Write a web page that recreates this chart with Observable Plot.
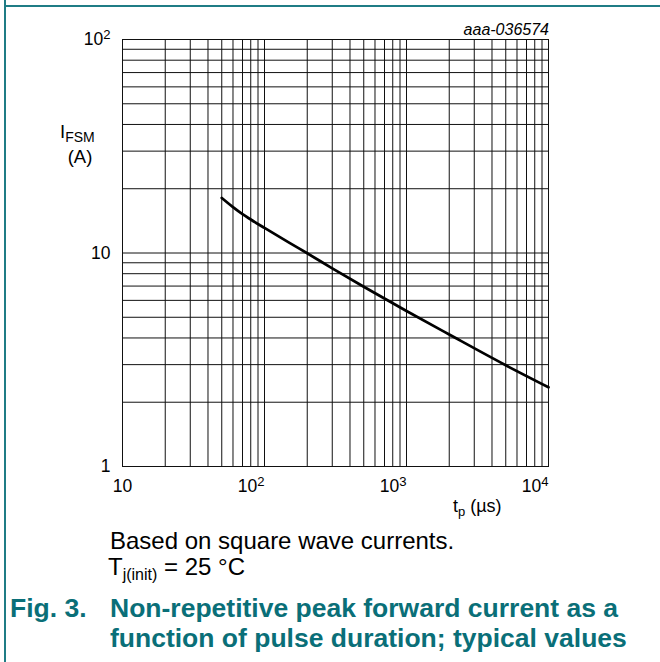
<!DOCTYPE html>
<html><head><meta charset="utf-8">
<script src="https://cdn.jsdelivr.net/npm/d3@7"></script>
<script src="https://cdn.jsdelivr.net/npm/@observablehq/plot@0.6"></script>
<style>
body{margin:0;background:#fff;}
#wrap{position:relative;width:660px;height:662px;overflow:hidden;font-family:"Liberation Sans",Arial,sans-serif;background:#fff;}
#chart{position:absolute;left:0;top:0;}
.bl{position:absolute;left:4px;top:0;width:2px;height:662px;background:#1f7c85}
.bt{position:absolute;left:4px;top:5px;width:656px;height:2px;background:#1f7c85}
.cap{position:absolute;white-space:nowrap;line-height:1;color:#000;}
.ttl{position:absolute;white-space:nowrap;line-height:1;color:#0a6f78;font-weight:bold;}
</style></head><body>
<div id="wrap">
  <div class="bl"></div><div class="bt"></div>
  <div id="chart"></div>
  <div class="cap" style="left:110px;top:529px;font-size:24px;">Based on square wave currents.</div>
  <div class="cap" style="left:108px;top:555px;font-size:24px;">T<span style="font-size:16px;position:relative;top:5px;">j(init)</span> = 25 °C</div>
  <div class="ttl" style="left:10px;top:595px;font-size:26.5px;">Fig. 3.</div>
  <div class="ttl" style="left:110px;top:595px;font-size:26.5px;">Non-repetitive peak forward current as a</div>
  <div class="ttl" style="left:110px;top:625px;font-size:26.5px;">function of pulse duration; typical values</div>
</div>
<script>
// pulse duration tp (µs) and peak forward current IFSM (A)
const tp   = [50, 60, 70, 80, 100, 150, 200, 300, 500, 1000, 2000, 5000, 10000];
const ifsm = [18.1, 16.4, 15.2, 14.35, 13.1, 11.15, 9.97, 8.48, 6.95, 5.35, 4.15, 2.98, 2.35];

// axis ticks and grid
const xTicksPlain = [10];
const xTicksPow = [100, 1000, 10000];
const yTicks = [1, 10, 100];
const xGrid = [10, 20, 30, 40, 50, 60, 70, 80, 90,
               100, 200, 300, 400, 500, 600, 700, 800, 900,
               1000, 2000, 3000, 4000, 5000, 6000, 7000, 8000, 9000, 10000];
const yGrid = [1, 2, 3, 4, 5, 6, 7, 8, 9, 10, 20, 30, 40, 50, 60, 70, 80, 90, 100];

const data = tp.map((t, i) => ({t, v: ifsm[i]}));
const powFmt = d => { const e = Math.round(Math.log10(d)); return e <= 1 ? String(d) : "10^" + e; };

const plot = Plot.plot({
  width: 660, height: 530,
  marginLeft: 122, marginRight: 112, marginTop: 39, marginBottom: 64,
  x: {type: "log", domain: [10, 10000]},
  y: {type: "log", domain: [1, 100]},
  style: {fontFamily: '"Liberation Sans", Arial, sans-serif', fontSize: "17px", color: "#000", background: "transparent", overflow: "visible"},
  marks: [
    Plot.ruleX(xGrid, {stroke: "#111", strokeWidth: 1}),
    Plot.ruleY(yGrid, {stroke: "#111", strokeWidth: 1}),
    Plot.frame({stroke: "#111", strokeWidth: 1}),
    Plot.line(data, {x: "t", y: "v", stroke: "#000", strokeWidth: 2.7, curve: "monotone-x"}),
    Plot.axisX(xTicksPlain, {tickSize: 0, tickPadding: 13, label: null, tickFormat: powFmt, fontSize: 17.5}),
    Plot.axisX(xTicksPow, {tickSize: 0, tickPadding: 13, label: null, tickFormat: powFmt, textAnchor: "end", fontSize: 17.5}),
    Plot.axisY(yTicks, {tickSize: 0, tickPadding: 12, label: null, tickFormat: powFmt, fontSize: 17.5})
  ]
});

const svg = d3.select(plot);
svg.selectAll("text").each(function() {
  const m = this.textContent.match(/^10\^(\d)$/);
  if (m) {
    this.textContent = "10";
    d3.select(this).append("tspan").attr("dy", "-0.45em").attr("font-size", "0.75em").text(m[1]);
  }
});

// axis titles
const yl = svg.append("text").attr("x", 60).attr("y", 138).attr("text-anchor", "start").attr("font-size", 18.5).attr("fill", "#000");
yl.append("tspan").text("I");
yl.append("tspan").attr("dy", 4).attr("font-size", 14).text("FSM");
svg.append("text").attr("x", 80).attr("y", 163).attr("text-anchor", "middle").attr("font-size", 18.5).attr("fill", "#000").text("(A)");

const xl = svg.append("text").attr("x", 453).attr("y", 512).attr("text-anchor", "start").attr("font-size", 18).attr("fill", "#000");
xl.append("tspan").text("t");
xl.append("tspan").attr("dy", 4).attr("font-size", 13).text("p");
xl.append("tspan").attr("dy", -4).text(" (µs)");

svg.append("text").attr("x", 549).attr("y", 35).attr("text-anchor", "end")
  .attr("font-size", 16).attr("font-style", "italic").attr("fill", "#000").text("aaa-036574");

document.getElementById("chart").appendChild(plot);
</script>
</body></html>
